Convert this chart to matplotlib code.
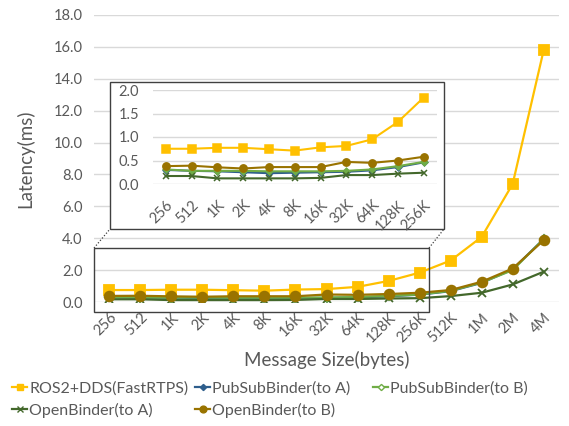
import matplotlib
matplotlib.use('Agg')
import matplotlib.pyplot as plt
from matplotlib.patches import Rectangle
from matplotlib.lines import Line2D

plt.rcParams['font.family'] = ['Lato', 'DejaVu Sans']

# message sizes
sizes = ['256', '512', '1K', '2K', '4K', '8K', '16K', '32K', '64K', '128K', '256K',
         '512K', '1M', '2M', '4M']

# latency in ms
ros2_dds = [0.75, 0.75, 0.77, 0.77, 0.74, 0.71, 0.78, 0.81, 0.95, 1.32, 1.84,
            2.6, 4.08, 7.4, 15.8]
pubsub_a = [0.30, 0.28, 0.27, 0.25, 0.23, 0.24, 0.25, 0.26, 0.29, 0.36, 0.46,
            0.68, 1.2, 2.05, 3.95]
pubsub_b = [0.31, 0.28, 0.28, 0.28, 0.27, 0.27, 0.27, 0.28, 0.31, 0.38, 0.47,
            0.70, 1.22, 2.0, 3.95]
openbinder_a = [0.17, 0.17, 0.12, 0.12, 0.12, 0.12, 0.13, 0.19, 0.19, 0.22, 0.24,
                0.37, 0.58, 1.1, 1.9]
openbinder_b = [0.38, 0.39, 0.355, 0.33, 0.36, 0.36, 0.36, 0.47, 0.45, 0.50, 0.58,
                0.75, 1.27, 2.1, 3.87]

series = [
    ('ROS2+DDS(FastRTPS)', ros2_dds, '#FFC000', 's'),
    ('PubSubBinder(to A)', pubsub_a, '#2E5E8C', 'D'),
    ('PubSubBinder(to B)', pubsub_b, '#70AD47', 'D'),
    ('OpenBinder(to A)', openbinder_a, '#43682B', 'x'),
    ('OpenBinder(to B)', openbinder_b, '#997300', 'o'),
]
msize = {'s': 7, 'D': 4.5, 'x': 6, 'o': 7}

txt = '#595959'
grid = '#D9D9D9'

fig = plt.figure(figsize=(5.69, 4.26), dpi=100)
W, H = 569, 426

def fig_box(x0, y0, x1, y1):
    return [x0 / W, 1 - y1 / H, (x1 - x0) / W, (y1 - y0) / H]

ax = fig.add_axes(fig_box(93.8, 15, 559.2, 302))
x = list(range(len(sizes)))
for name, vals, c, m in series:
    ax.plot(x, vals, color=c, marker=m, markersize=msize[m], linewidth=1.6,
            markeredgecolor=c, markeredgewidth=1.3)
ax.set_xlim(-0.5, len(sizes) - 0.5)
ax.set_ylim(0, 18)
ax.set_yticks([i * 2 for i in range(10)])
ax.set_yticklabels([f'{i * 2:.1f}' for i in range(10)])
ax.set_xticks(x)
ax.set_xticklabels(sizes, rotation=45, ha='right', rotation_mode='anchor')
ax.tick_params(axis='both', length=0, colors=txt, labelsize=10.5)
ax.tick_params(axis='x', pad=6)
ax.tick_params(axis='y', pad=8)
ax.grid(axis='y', color=grid, linewidth=1)
ax.set_axisbelow(True)
for s in ax.spines.values():
    s.set_visible(False)
ax.set_ylabel('Latency(ms)', color=txt, fontsize=13.5, labelpad=14)
ax.set_xlabel('Message Size(bytes)', color=txt, fontsize=13.5, labelpad=4)

# zoom rectangle on main chart
ax.add_patch(Rectangle((-0.5, -0.6), 10.8, 4.0, fill=False, edgecolor='#404040',
                       linewidth=1, clip_on=False, zorder=5))

# inset frame
fx0, fy0, fx1, fy1 = 110, 82, 444, 229
fig.add_artist(Rectangle((fx0 / W, 1 - fy1 / H), (fx1 - fx0) / W, (fy1 - fy0) / H,
                         transform=fig.transFigure, facecolor='white',
                         edgecolor='#404040', linewidth=1, zorder=3))
fig.add_artist(Line2D([94 / W, fx0 / W], [1 - 248 / H, 1 - fy1 / H], color='#404040',
                      linestyle=(0, (1, 1.5)), linewidth=0.9, zorder=3))
fig.add_artist(Line2D([429 / W, fx1 / W], [1 - 248 / H, 1 - fy1 / H], color='#404040',
                      linestyle=(0, (1, 1.5)), linewidth=0.9, zorder=3))

n_in = 11
ins = fig.add_axes(fig_box(152.8, 90, 436.6, 184))
ins.set_zorder(4)
ins.patch.set_alpha(0)
xi = list(range(n_in))
for name, vals, c, m in series:
    ins.plot(xi, vals[:n_in], color=c, marker=m, markersize=msize[m] * 0.75,
             linewidth=1.5, markeredgecolor=c, markeredgewidth=1.1)
ins.set_xlim(-0.5, n_in - 0.5)
ins.set_ylim(0, 2.0)
ins.set_yticks([0, 0.5, 1.0, 1.5, 2.0])
ins.set_yticklabels(['0.0', '0.5', '1.0', '1.5', '2.0'])
ins.set_xticks(xi)
ins.set_xticklabels(sizes[:n_in], rotation=45, ha='right', rotation_mode='anchor')
ins.tick_params(axis='both', length=0, colors=txt, labelsize=10.5)
ins.tick_params(axis='x', pad=10)
ins.tick_params(axis='y', pad=10)
ins.grid(axis='y', color=grid, linewidth=1)
ins.set_axisbelow(True)
for s in ins.spines.values():
    s.set_visible(False)

# legend: small markers, two legends to mimic Excel's column widths
leg = {}
for name, vals, c, m in series:
    face = 'white' if name == 'PubSubBinder(to B)' else c
    leg[name] = Line2D([], [], color=c, marker=m, markersize=msize[m] * 0.7,
                       markerfacecolor=face, markeredgecolor=c, linewidth=1.6)
legkw = dict(frameon=False, fontsize=11.5, labelcolor=txt, handlelength=0.9,
             handletextpad=0.15, borderaxespad=0.0, labelspacing=0.45)
order = ['ROS2+DDS(FastRTPS)', 'OpenBinder(to A)', 'PubSubBinder(to A)', 'OpenBinder(to B)']
l1 = fig.legend([leg[n] for n in order], order, loc='upper left',
                bbox_to_anchor=(6 / W, 1 - 375 / H), ncol=2, columnspacing=0.45, **legkw)
fig.legend([leg['PubSubBinder(to B)']], ['PubSubBinder(to B)'], loc='upper left',
           bbox_to_anchor=(367 / W, 1 - 375 / H), **legkw)

fig.savefig('out.png', dpi=100)
